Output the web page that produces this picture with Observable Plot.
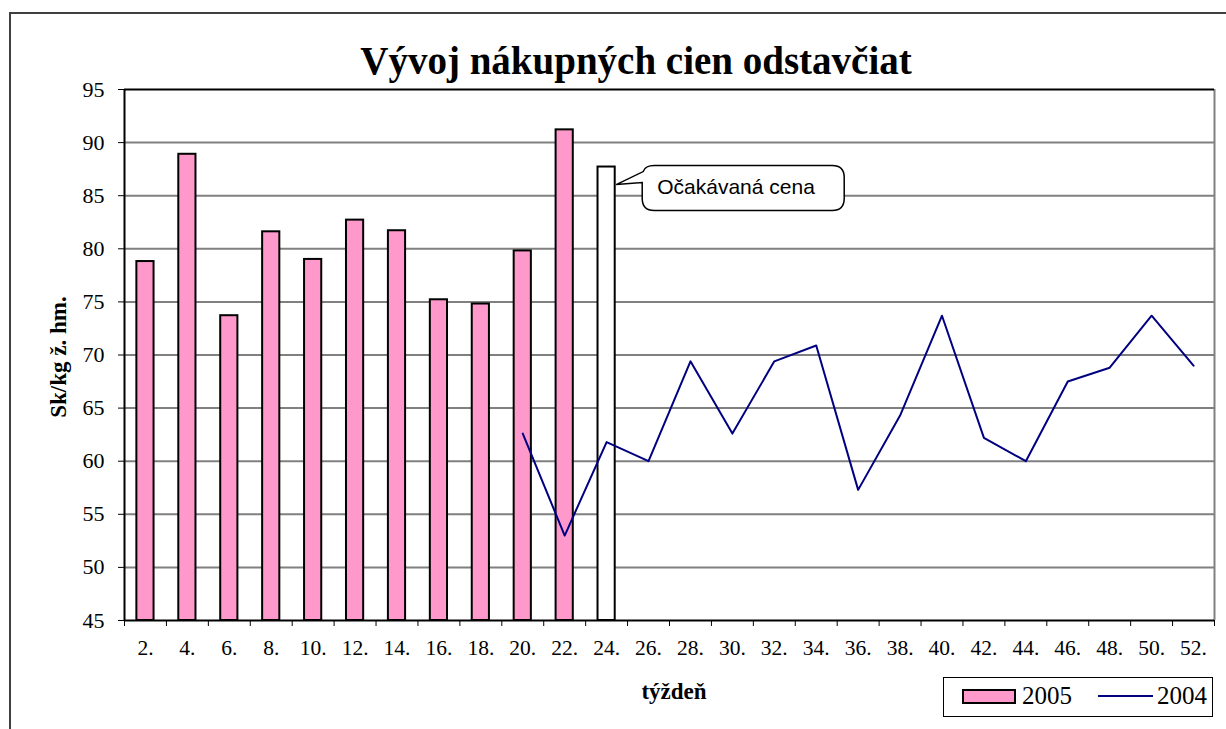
<!DOCTYPE html>
<html>
<head>
<meta charset="utf-8">
<script src="https://cdn.jsdelivr.net/npm/d3@7"></script>
<script src="https://cdn.jsdelivr.net/npm/@observablehq/plot@0.6"></script>
<style>
  html, body { margin: 0; padding: 0; background: #fff; overflow: hidden; }
  #wrap { position: relative; width: 1226px; height: 729px; overflow: hidden; font-family: "Liberation Serif", "Times New Roman", serif; color: #000; }
  #outer { position: absolute; left: 9px; top: 12px; width: 1400px; height: 900px; border-left: 2px solid #404040; border-top: 2px solid #404040; }
  #title { position: absolute; left: 0; width: 1272px; top: 38px; text-align: center; font-weight: bold; font-size: 39px; line-height: 46px; white-space: nowrap; }
  #chart { position: absolute; left: 0; top: 80px; }
  #xlabel { position: absolute; left: 574px; width: 200px; top: 678px; text-align: center; font-weight: bold; font-size: 23px; line-height: 28px; }
  #legend { position: absolute; left: 943px; top: 677px; width: 268px; height: 38px; border: 1px solid #000; font-size: 25px; }
  #legend .sw { position: absolute; left: 18px; top: 11px; width: 50px; height: 11px; background: #ff99cc; border: 2px solid #000; }
  #legend .ln { position: absolute; left: 154px; top: 17px; width: 55px; height: 0; border-top: 2px solid #000080; }
  #legend .t { position: absolute; top: 3px; line-height: 30px; }
</style>
</head>
<body>
<div id="wrap">
  <div id="outer"></div>
  <div id="title">Vývoj nákupných cien odstavčiat</div>
  <div id="chart"></div>
  <div id="xlabel">týždeň</div>
  <div id="legend">
    <div class="sw"></div><div class="t" style="left:78px">2005</div>
    <div class="ln"></div><div class="t" style="left:213px">2004</div>
  </div>
</div>
<script>
// ---- data ----
const weeks = [2, 4, 6, 8, 10, 12, 14, 16, 18, 20, 22, 24, 26, 28, 30, 32, 34, 36, 38, 40, 42, 44, 46, 48, 50, 52];
const yTicks = [45, 50, 55, 60, 65, 70, 75, 80, 85, 90, 95];
const gridTicks = [50, 55, 60, 65, 70, 75, 80, 85, 90];

const weeks2005 = [2, 4, 6, 8, 10, 12, 14, 16, 18, 20, 22];
const values2005 = [78.8, 88.9, 73.7, 81.6, 79.0, 82.7, 81.7, 75.2, 74.8, 79.8, 91.2];

const expectedWeeks = [24];
const expectedValues = [87.7];

const weeks2004 = [20, 22, 24, 26, 28, 30, 32, 34, 36, 38, 40, 42, 44, 46, 48, 50, 52];
const values2004 = [62.6, 53.0, 61.8, 60.0, 69.4, 62.6, 69.4, 70.9, 57.3, 64.3, 73.7, 62.2, 60.0, 67.5, 68.8, 73.7, 69.0];

const yLabel = "Sk/kg ž. hm.";
const calloutText = "Očakávaná cena";

// ---- tables ----
const bars2005 = weeks2005.map((w, i) => ({week: w, value: values2005[i]}));
const expected = expectedWeeks.map((w, i) => ({week: w, value: expectedValues[i]}));
const line2004 = weeks2004.map((w, i) => ({week: w, value: values2004[i]}));
const boundaries = weeks.map(w => w - 1).concat([weeks[weeks.length - 1] + 1]);

const half = 0.41;
const serif = "'Liberation Serif', 'Times New Roman', serif";

const plot = Plot.plot({
  width: 1226,
  height: 585,
  marginTop: 9,
  marginBottom: 45,
  marginLeft: 124,
  marginRight: 12,
  x: {domain: [1, 53]},
  y: {domain: [45, 95]},
  style: {fontFamily: serif, fontSize: "22px", color: "#000", background: "transparent", overflow: "visible"},
  marks: [
    Plot.ruleY(gridTicks, {stroke: "#808080", strokeWidth: 2}),
    Plot.rectY(bars2005, {x1: d => d.week - half, x2: d => d.week + half, y1: 45, y2: "value", fill: "#ff99cc", stroke: "#000", strokeWidth: 2}),
    Plot.rectY(expected, {x1: d => d.week - half, x2: d => d.week + half, y1: 45, y2: "value", fill: "#fff", stroke: "#000", strokeWidth: 2}),
    Plot.line(line2004, {x: "week", y: "value", stroke: "#000080", strokeWidth: 2}),
    Plot.ruleX([53], {stroke: "#808080", strokeWidth: 2}),
    Plot.ruleY([95, 45], {stroke: "#000", strokeWidth: 2}),
    Plot.ruleX([1], {stroke: "#000", strokeWidth: 2}),
    Plot.axisY(yTicks, {tickSize: 6, tickPadding: 14, label: null, fontSize: 22, tickFormat: d => String(d)}),
    Plot.axisX(boundaries, {tickSize: 6, tickFormat: () => "", label: null}),
    Plot.axisX(weeks, {tickSize: 0, tickPadding: 19, tickFormat: d => d + ".", label: null, fontSize: 21.5}),
    Plot.text([yLabel], {frameAnchor: "left", textAnchor: "middle", rotate: -90, dx: -66, dy: 2, fontWeight: "bold", fontSize: 23, fill: "#000"})
  ]
});

document.getElementById("chart").appendChild(plot);

// ---- callout for the expected price ----
const xs = plot.scale("x"), ys = plot.scale("y");
const tx = xs.apply(expectedWeeks[0] + half) + 1.5;
const ty = ys.apply(expectedValues[0] - 1.7);
const x0 = tx + 26, y0 = ty - 19, w = 202, h = 45, r = 12;
const svg = d3.select(plot);
svg.append("path")
  .attr("d", `M${x0 + r},${y0} H${x0 + w - r} Q${x0 + w},${y0} ${x0 + w},${y0 + r} V${y0 + h - r} Q${x0 + w},${y0 + h} ${x0 + w - r},${y0 + h} H${x0 + r} Q${x0},${y0 + h} ${x0},${y0 + h - r} V${y0 + 17} L${tx},${ty} L${x0 + 1},${y0 + 6} Q${x0 + 3},${y0} ${x0 + r},${y0} Z`)
  .attr("fill", "#fff").attr("stroke", "#000").attr("stroke-width", 1.5);
svg.append("text")
  .attr("x", x0 + 15).attr("y", y0 + 28)
  .attr("text-anchor", "start")
  .attr("font-family", "'Liberation Sans', Arial, sans-serif")
  .attr("font-size", 21)
  .attr("fill", "#000")
  .text(calloutText);
</script>
</body>
</html>
